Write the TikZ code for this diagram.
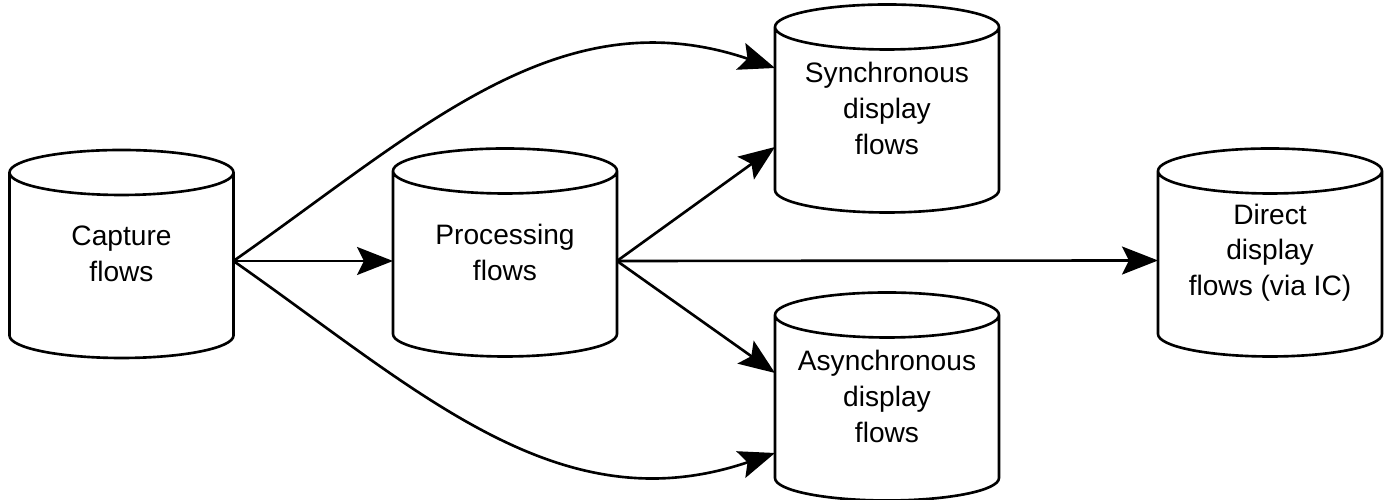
\documentclass[tikz,border=0pt]{standalone}
\usepackage{fontspec}
\setmainfont{Liberation Sans}
\usetikzlibrary{arrows.meta,positioning}
\tikzset{
  flux/.style={minimum width=4.48cm,minimum height=4.16cm,align=center,outer sep=0pt,
               inner sep=0pt,font=\fontsize{16}{20.3}\selectfont},
  bord/.style={draw=black,line width=1.5pt},
  fleche/.style={-{Stealth[length=7.2mm,width=5.6mm,inset=1.4mm]},line width=1.5pt},
}
\begin{document}
\begin{tikzpicture}
  \useasboundingbox (0,0) rectangle (27.76,10);
  \node[flux] (cap) at (2.43,4.92) {Capture\\flows};
  \node[flux] (proc) at (10.1,4.95) {Processing\\flows};
  \node[flux] (sync) at (17.74,7.83) {Synchronous\\display\\flows};
  \node[flux] (async) at (17.74,2.07) {Asynchronous\\display\\flows};
  \node[flux] (direct) at (25.4,4.95) {Direct\\display\\flows (via IC)};
  % cylinders
  \foreach \n in {cap,proc,sync,async,direct}
    \draw[bord] ([yshift=-0.45cm]\n.north west) -- ([yshift=0.45cm]\n.south west)
      arc[start angle=180,end angle=360,x radius=2.24cm,y radius=0.45cm]
      -- ([yshift=-0.45cm]\n.north east)
      arc[start angle=0,end angle=360,x radius=2.24cm,y radius=0.45cm];
  \draw[fleche] ([yshift=-0.14cm]cap.east) -- ([yshift=-0.17cm]proc.west);
  \draw[fleche] ([yshift=-0.14cm]cap.east) .. controls +(3.74,2.62) and +(-4.3,1.46) .. ([yshift=0.81cm]sync.west);
  \draw[fleche] ([yshift=-0.14cm]cap.east) .. controls +(3.74,-2.62) and +(-4.3,-1.46) .. ([yshift=-1.13cm]async.west);
  \draw[fleche] ([yshift=-0.17cm]proc.east) -- ([yshift=-0.77cm]sync.west);
  \draw[fleche] ([yshift=-0.17cm]proc.east) -- ([yshift=0.47cm]async.west);
  \draw[fleche] ([yshift=-0.17cm]proc.east) -- ([yshift=-0.16cm]direct.west);
\end{tikzpicture}
\end{document}
